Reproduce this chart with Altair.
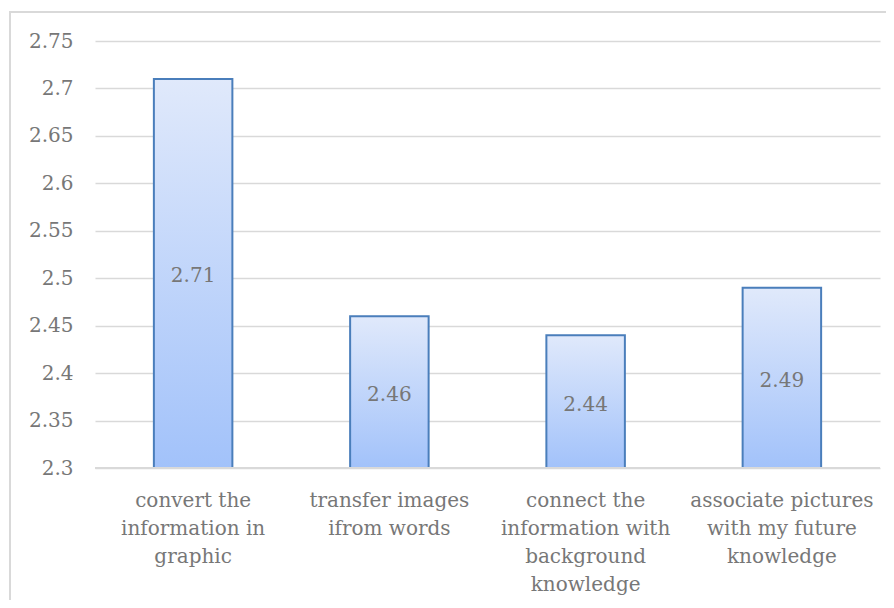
import altair as alt
import pandas as pd

categories = [
    "convert the|information in|graphic",
    "transfer images|ifrom words",
    "connect the|information with|background|knowledge",
    "associate pictures|with my future|knowledge",
]
values = [2.71, 2.46, 2.44, 2.49]
y_ticks = [2.3, 2.35, 2.4, 2.45, 2.5, 2.55, 2.6, 2.65, 2.7, 2.75]
y_min = 2.3

df = pd.DataFrame({"cat": categories, "val": values})
df["mid"] = (df["val"] + y_min) / 2
df["lbl"] = df["val"].map(lambda v: f"{v:g}")

FONT = "DejaVu Serif"
TXT = "#777777"
FS = 20

grad = alt.Gradient(
    gradient="linear",
    stops=[alt.GradientStop(color="#e0e9fb", offset=0),
           alt.GradientStop(color="#a2c2fa", offset=1)],
    x1=0, x2=0, y1=0, y2=1,
)

xenc = alt.X("cat:N", sort=categories, title=None,
             scale=alt.Scale(paddingInner=0, paddingOuter=0),
             axis=alt.Axis(labelExpr="split(datum.label, '|')", labelAngle=0,
                           labelFont=FONT, labelFontSize=FS, labelColor=TXT,
                           labelLineHeight=28, labelPadding=22, ticks=False,
                           labelLimit=400, domain=False, labelBaseline="top"))
yscale = alt.Scale(domain=[2.3, 2.75], nice=False, zero=False)

frame = alt.Chart(df).mark_rect(filled=False, stroke="#d9d9d9", strokeWidth=2, clip=False).encode(
    x=alt.value(-85), x2=alt.value(950), y=alt.value(-29), y2=alt.value(700)
)

bars = alt.Chart(df).mark_bar(
    color=grad, stroke="#4a7ebb", strokeWidth=2, width=alt.RelativeBandSize(0.4)
).encode(
    x=xenc,
    y=alt.Y("val:Q", scale=yscale, title=None,
            axis=alt.Axis(values=y_ticks, labelFont=FONT, labelFontSize=FS, labelColor=TXT,
                          ticks=False, domain=False, gridColor="#d9d9d9", gridWidth=1.5,
                          labelPadding=22, format="~g")),
    y2=alt.datum(2.3),
)

baseline = alt.Chart(df).mark_rule(color="#d9d9d9", strokeWidth=2).encode(
    x=alt.value(0), x2=alt.value(785), y=alt.datum(2.3)
)

labels = alt.Chart(df).mark_text(font=FONT, fontSize=FS, color=TXT, baseline="middle", dy=3).encode(
    x=alt.X("cat:N", sort=categories),
    y=alt.Y("mid:Q", scale=yscale),
    text="lbl:N",
)

chart = alt.layer(frame, bars, baseline, labels).properties(
    width=785, height=427,
    autosize=alt.AutoSizeParams(type="none"),
    padding={"left": 87, "top": 33, "right": 6, "bottom": 132},
).configure_view(stroke=None)

chart.save("out.html", embed_options={"renderer": "svg", "actions": False})
